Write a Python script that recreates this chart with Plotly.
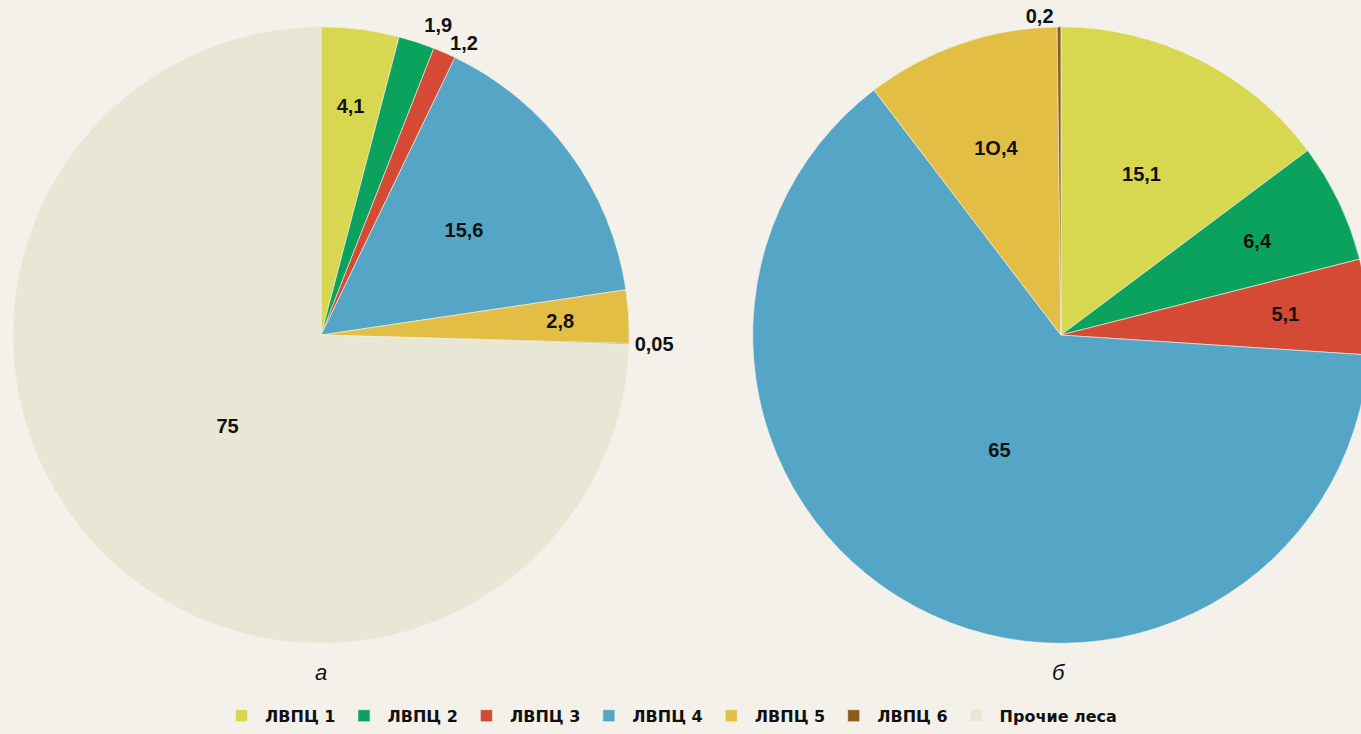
import plotly.graph_objects as go

labels = ["ЛВПЦ 1", "ЛВПЦ 2", "ЛВПЦ 3", "ЛВПЦ 4", "ЛВПЦ 5", "ЛВПЦ 6", "Прочие леса"]
colors = ["#D8D850", "#0BA25E", "#D44A35", "#55A6C6", "#E3BE45", "#8E5B1E", "#E8E6D4"]

a_values = [4.1, 1.9, 1.2, 15.6, 2.8, 0.05, 75]
a_text = ["4,1", "1,9", "1,2", "15,6", "2,8", "0,05", "75"]
# label placement: "in" = inside, "out" / "out2" = outside (two separate carriers so
# neighbouring outside labels are not pushed apart with leader lines)
a_place = ["in", "out2", "out", "in", "in", "out", "in"]

b_labels = labels[:6]
b_values = [15.1, 6.4, 5.1, 65, 10.4, 0.2]
b_text = ["15,1", "6,4", "5,1", "65", "1О,4", "0,2"]
b_place = ["in", "in", "in", "in", "in", "out"]

W, H = 1380, 734
B = 40                      # bottom margin reserved for the legend
HP = H - B                  # plot-area height
R = 310                     # pie radius (px)
R_TXT = 262                 # radius of the invisible inside-label carrier (px)
R_OUT2 = 317                # radius of the invisible second outside-label carrier (px)
bg = "#F3F1E9"
font = "Liberation Sans, Arial, sans-serif"
tfont = dict(family=font, size=20, color="#111111")
clear = "rgba(0,0,0,0)"

def dom(cx, cy, r):
    return dict(x=[(cx - r) / W, (cx + r) / W], y=[(HP - cy - r) / HP, (HP - cy + r) / HP])

fig = go.Figure()

def carrier(lbls, vals, txt, place, key, pos, cx, cy, r):
    n = len(vals)
    fig.add_trace(go.Pie(
        labels=lbls, values=vals, text=txt, textinfo="text",
        texttemplate="<b>%{text}</b>",
        textposition=[pos if p == key else "none" for p in place],
        insidetextorientation="horizontal",
        sort=False, direction="clockwise", rotation=0,
        marker=dict(colors=[clear] * n, line=dict(width=0)),
        textfont=tfont, insidetextfont=tfont, outsidetextfont=tfont,
        domain=dom(cx, cy, r), hoverinfo="skip", showlegend=False,
    ))

def add_pie(lbls, vals, txt, place, cx, cy, legend):
    n = len(vals)
    fig.add_trace(go.Pie(
        labels=lbls, values=vals, text=txt, textinfo="text",
        texttemplate="<b>%{text}</b>",
        textposition=["outside" if p == "out" else "none" for p in place],
        sort=False, direction="clockwise", rotation=0,
        marker=dict(colors=colors[:n], line=dict(color=bg, width=0.6)),
        textfont=tfont, outsidetextfont=tfont,
        domain=dom(cx, cy, R), hoverinfo="label+value", showlegend=legend,
    ))
    carrier(lbls, vals, txt, place, "in", "inside", cx, cy, R_TXT)
    if "out2" in place:
        carrier(lbls, vals, txt, place, "out2", "outside", cx, cy, R_OUT2)

add_pie(labels, a_values, a_text, a_place, 318, 333, True)
add_pie(b_labels, b_values, b_text, b_place, 1060, 333, False)

for x, t in [(318, "а"), (1058, "б")]:
    fig.add_annotation(x=x / W, y=(HP - 672) / HP, xref="paper", yref="paper",
                       xanchor="center", yanchor="middle",
                       text="<i>" + t + "</i>", showarrow=False,
                       font=dict(family=font, size=22, color="#111111"))

fig.update_layout(
    width=W, height=H, autosize=False,
    margin=dict(l=0, r=0, t=0, b=B),
    paper_bgcolor=bg, plot_bgcolor=bg,
    showlegend=True,
    legend=dict(orientation="h", x=668 / W, xanchor="center", y=-(B - 1) / HP, yanchor="bottom",
                font=dict(family="DejaVu Sans, sans-serif", size=16, color="#111111", weight="bold"),
                itemwidth=37, traceorder="normal", bgcolor="rgba(0,0,0,0)"),
)

fig.write_html("out.html", config={"displayModeBar": False},
               post_script="document.body.style.margin='0';document.body.style.overflow='hidden';")
